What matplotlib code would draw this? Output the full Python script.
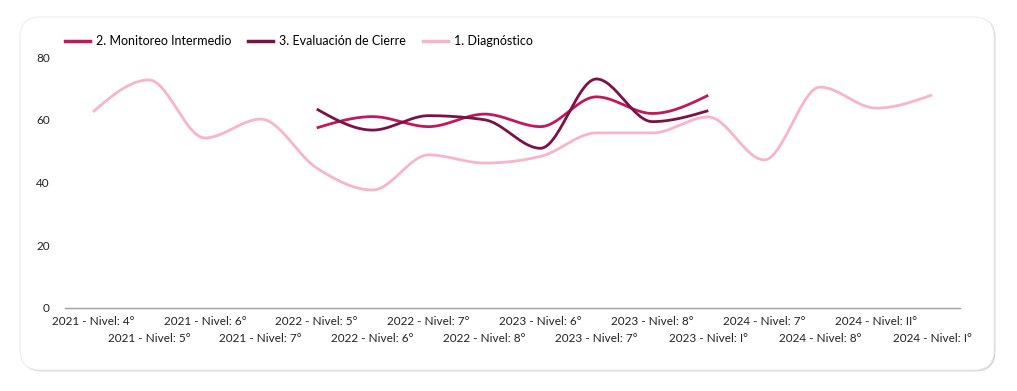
import numpy as np
import matplotlib
matplotlib.use("Agg")
import matplotlib.pyplot as plt
from matplotlib.patches import FancyBboxPatch
from matplotlib.lines import Line2D

plt.rcParams['font.family'] = ['Lato', 'DejaVu Sans']

categories = ["2021 - Nivel: 4°", "2021 - Nivel: 5°", "2021 - Nivel: 6°", "2021 - Nivel: 7°",
              "2022 - Nivel: 5°", "2022 - Nivel: 6°", "2022 - Nivel: 7°", "2022 - Nivel: 8°",
              "2023 - Nivel: 6°", "2023 - Nivel: 7°", "2023 - Nivel: 8°", "2023 - Nivel: I°",
              "2024 - Nivel: 7°", "2024 - Nivel: 8°", "2024 - Nivel: II°", "2024 - Nivel: I°"]

diagnostico = [62.5, 72.7, 54.2, 60.2, 44.6, 37.6, 48.8, 46.2,
               48.3, 55.8, 55.8, 60.9, 47.2, 70.4, 63.7, 67.9]
monitoreo = [None, None, None, None, 57.4, 61.0, 57.8, 61.8,
             57.8, 67.3, 62.0, 67.8, None, None, None, None]
evaluacion = [None, None, None, None, 63.4, 56.7, 61.3, 60.0,
              50.9, 73.0, 59.4, 62.9, None, None, None, None]

series = [
    ("2. Monitoreo Intermedio", monitoreo, "#c2185b"),
    ("3. Evaluación de Cierre", evaluacion, "#7b1146"),
    ("1. Diagnóstico", diagnostico, "#f8b4ca"),
]


def monotone(x, y, n=30):
    x = np.asarray(x, float)
    y = np.asarray(y, float)
    h = np.diff(x)
    d = np.diff(y) / h
    m = np.zeros_like(y)
    for i in range(1, len(y) - 1):
        if d[i - 1] * d[i] <= 0:
            m[i] = 0
        else:
            m[i] = (np.sign(d[i - 1]) + np.sign(d[i])) * min(abs(d[i - 1]), abs(d[i]), 0.5 * abs((d[i - 1] * h[i] + d[i] * h[i - 1]) / (h[i - 1] + h[i])))
    m[0] = (3 * d[0] - m[1]) / 2
    m[-1] = (3 * d[-1] - m[-2]) / 2
    xs, ys = [], []
    for i in range(len(x) - 1):
        t = np.linspace(0, 1, n)
        h00 = 2 * t**3 - 3 * t**2 + 1
        h10 = t**3 - 2 * t**2 + t
        h01 = -2 * t**3 + 3 * t**2
        h11 = t**3 - t**2
        xs.append(x[i] + t * h[i])
        ys.append(h00 * y[i] + h10 * h[i] * m[i] + h01 * y[i + 1] + h11 * h[i] * m[i + 1])
    return np.concatenate(xs), np.concatenate(ys)


fig = plt.figure(figsize=(10.17, 3.91), dpi=100)
W, H = 1017, 391

# card background
shadow = FancyBboxPatch((21.5 / W, (H - 371.5) / H), 974 / W, 354 / H,
                        boxstyle="round,pad=0,rounding_size=0.02",
                        transform=fig.transFigure, facecolor="#d6d6d6", edgecolor="none",
                        mutation_aspect=W / H, zorder=-3)
fig.patches.append(shadow)
card = FancyBboxPatch((20 / W, (H - 370) / H), 974 / W, 353 / H,
                      boxstyle="round,pad=0,rounding_size=0.02",
                      transform=fig.transFigure, facecolor="white", edgecolor="#eeeeee",
                      linewidth=0.8, mutation_aspect=W / H, zorder=-2)
fig.patches.append(card)

ax = fig.add_axes([65 / W, 1 - 308 / H, (960 - 65) / W, (308 - 57) / H])
ax.set_facecolor("none")
xpos = np.arange(len(categories))

handles = []
for name, vals, col in series:
    idx = [i for i, v in enumerate(vals) if v is not None]
    xv = xpos[idx]
    yv = [vals[i] for i in idx]
    sx, sy = monotone(xv, yv)
    ax.plot(sx, sy, color=col, linewidth=2, solid_capstyle="butt")
    handles.append(Line2D([0], [0], color=col, linewidth=2.5))

ax.set_xlim(-0.5, len(categories) - 0.5)
ax.set_ylim(0, 80)
ax.set_yticks([0, 20, 40, 60, 80])
ax.tick_params(axis="y", length=0, labelsize=8.5, colors="#222222", pad=11)
ax.set_xticks(xpos[0::2])
ax.set_xticklabels(categories[0::2])
ax.set_xticks(xpos[1::2], minor=True)
ax.set_xticklabels(categories[1::2], minor=True)
ax.tick_params(axis="x", which="major", length=0, labelsize=8.5, colors="#222222", pad=6)
ax.tick_params(axis="x", which="minor", length=0, labelsize=8.5, colors="#222222", pad=18)
for s in ["top", "right", "left"]:
    ax.spines[s].set_visible(False)
ax.spines["bottom"].set_color("#9e9e9e")
ax.spines["bottom"].set_linewidth(1)

fig.legend(handles, [s[0] for s in series], loc="center left",
           bbox_to_anchor=(54 / W, 1 - 41 / H), ncol=3, frameon=False,
           fontsize=9, handlelength=2, handletextpad=0.5, columnspacing=1.3)

fig.savefig("out.png", dpi=100)
